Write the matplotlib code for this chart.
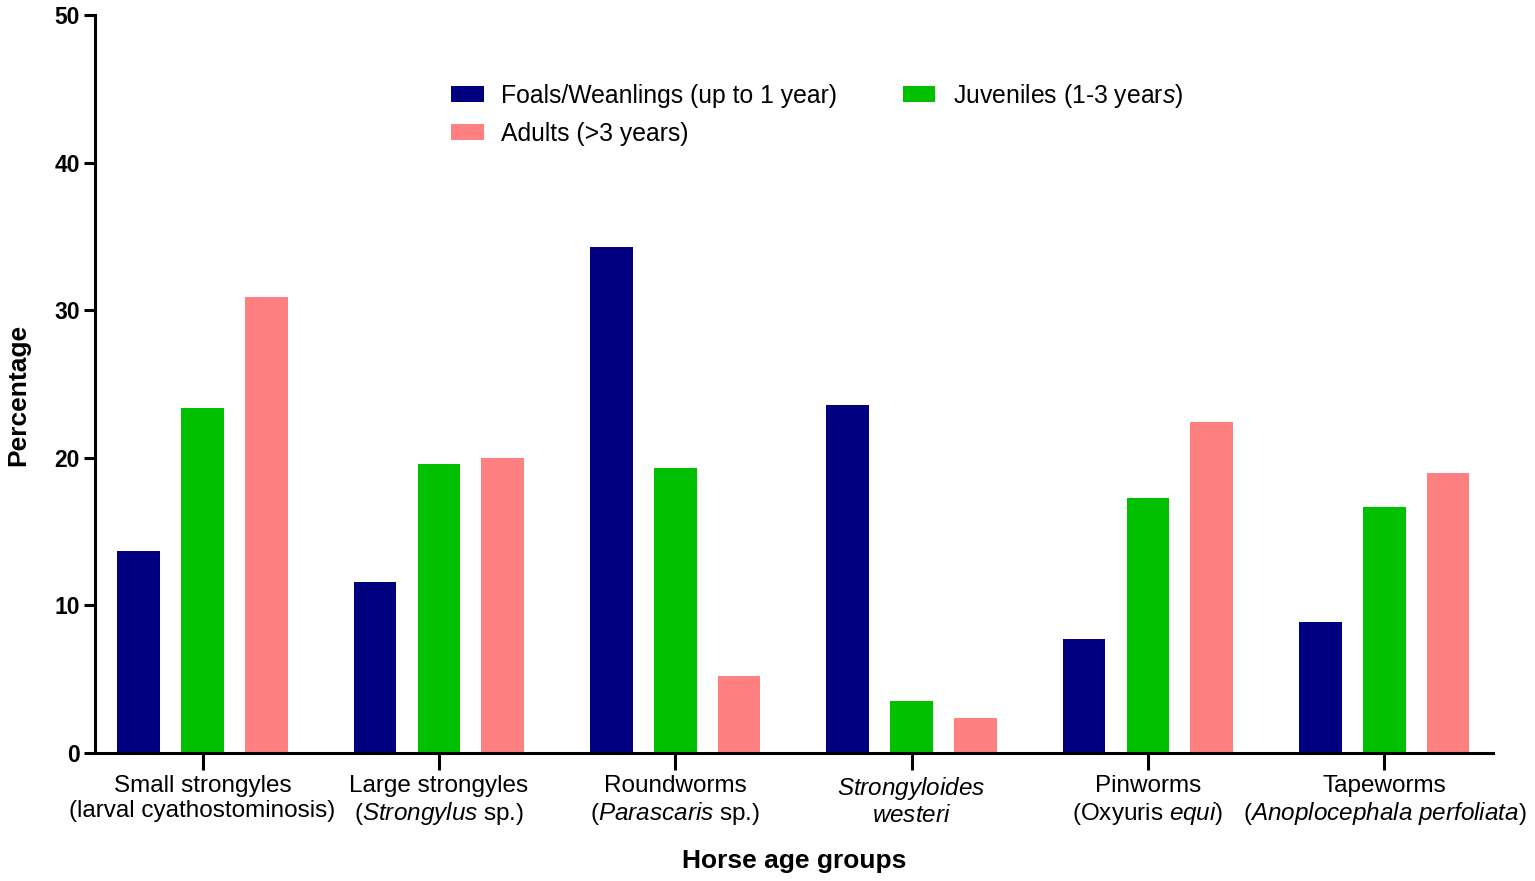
import numpy as np
import matplotlib
matplotlib.use("Agg")
import matplotlib.pyplot as plt

plt.rcParams['font.family'] = ['Liberation Sans', 'DejaVu Sans']
plt.rcParams['mathtext.fontset'] = 'custom'
plt.rcParams['mathtext.rm'] = 'Liberation Sans'
plt.rcParams['mathtext.it'] = 'Liberation Sans:italic'

# Parasite groups (tick labels) and percentages per age group
categories = [
    "Small strongyles\n(larval cyathostominosis)",
    "Large strongyles\n($\\mathit{Strongylus}$ sp.)",
    "Roundworms\n($\\mathit{Parascaris}$ sp.)",
    "$\\mathit{Strongyloides}$\n$\\mathit{westeri}$",
    "Pinworms\n(Oxyuris $\\mathit{equi}$)",
    "Tapeworms\n($\\mathit{Anoplocephala\\ perfoliata}$)",
]
foals = [13.7, 11.6, 34.3, 23.6, 7.7, 8.9]
juveniles = [23.4, 19.6, 19.3, 3.5, 17.3, 16.7]
adults = [30.9, 20.0, 5.2, 2.4, 22.4, 19.0]

labels = ["Foals/Weanlings (up to 1 year)", "Adults (>3 years)",
          "Juveniles (1-3 year$\\mathit{s)}$"]
colors = ["#000080", "#00C000", "#FF8080"]

fig = plt.figure(figsize=(15.35, 8.81), dpi=100)
ax = fig.add_axes([95 / 1535, 1 - 753 / 881, 1398 / 1535, 738 / 881])

x = np.arange(len(categories))
w = 0.18
off = 0.27
b1 = ax.bar(x - off, foals, w, color=colors[0], label=labels[0])
b2 = ax.bar(x, juveniles, w, color=colors[1], label=labels[2])
b3 = ax.bar(x + off, adults, w, color=colors[2], label=labels[1])

ax.set_xlim(-0.455, 5.46)
ax.set_ylim(0, 50)
ax.set_yticks([0, 10, 20, 30, 40, 50])
ax.set_xticks(x)
ax.set_xticklabels(categories, fontsize=17.5, linespacing=1.15)
for t in ax.get_yticklabels():
    t.set_fontweight("bold")
    t.set_fontsize(16.5)

ax.spines['top'].set_visible(False)
ax.spines['right'].set_visible(False)
ax.spines['left'].set_linewidth(2.2)
ax.spines['bottom'].set_linewidth(2.2)
ax.tick_params(axis='x', length=12, width=2.2, pad=4)
ax.tick_params(axis='y', length=8, width=2.2, pad=3)

ax.set_ylabel("Percentage", fontsize=19, fontweight="bold")
ax.yaxis.set_label_coords(-0.0465, 0.485)
ax.set_xlabel("Horse age groups", fontsize=19, fontweight="bold", labelpad=16)

ax.legend([b1, b3, b2], [labels[0], labels[1], labels[2]], ncol=2, frameon=False,
          loc="upper left", bbox_to_anchor=(0.239, 0.94), fontsize=17.8,
          handlelength=1.3, handleheight=0.65, handletextpad=0.69,
          columnspacing=2.7, labelspacing=0.58)

fig.savefig("out.png", dpi=100)
